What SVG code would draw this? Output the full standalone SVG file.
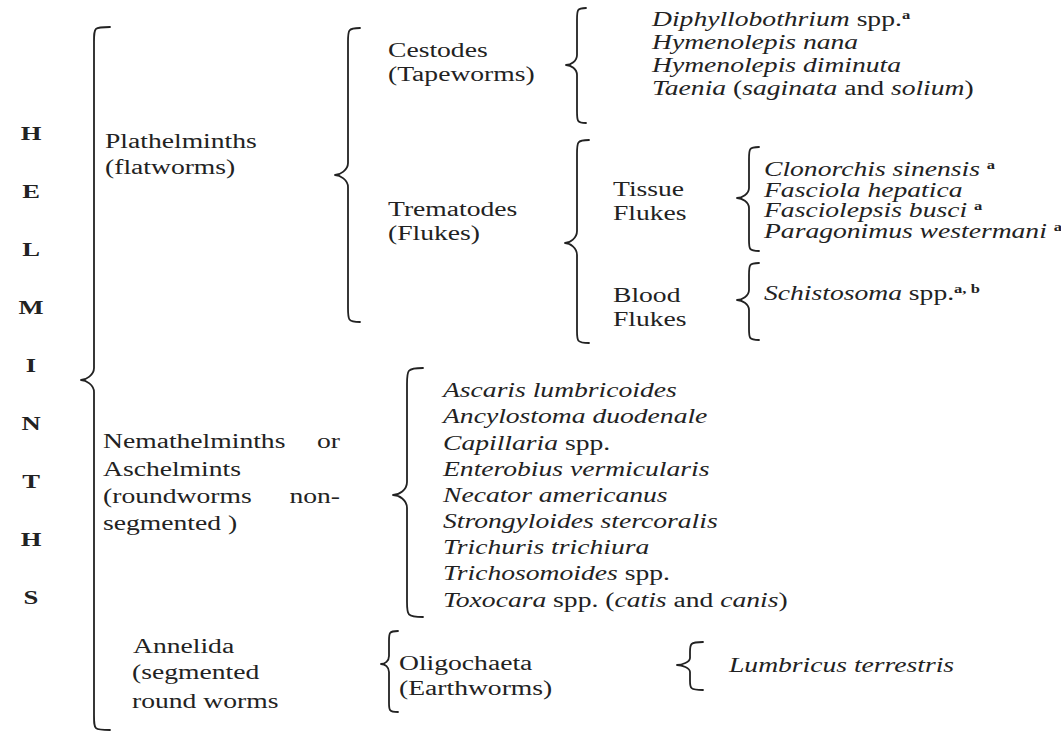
<svg xmlns="http://www.w3.org/2000/svg" width="1061" height="736" viewBox="0 0 1061 736">
<style>
text{font-family:"Liberation Serif","Times New Roman",serif;font-size:20px;fill:#222}
.i{font-style:italic}
.b{font-weight:bold;font-size:19px}
.sup{font-size:12px;font-weight:bold;font-style:normal}
.end{text-anchor:end}
.mid{text-anchor:middle}
.br{fill:none;stroke:#222;stroke-width:1.8;stroke-linecap:round;stroke-linejoin:round}
</style>
<rect width="1061" height="736" fill="#fff"/>
<g id="connectors">
<path class="br" d="M110,27 C94,27 94,27 94,42 L94,368 C94,375 86,380 81,380 C86,380 94,385 94,392 L94,715 C94,730 94,730 110,730"/>
<path class="br" d="M360,28 C348,28 348,30 348,42 L348,163 C348,170 340,175 335,175 C340,175 348,180 348,187 L348,308 C348,320 348,322 360,322"/>
<path class="br" d="M586,8 C577,8 577,10 577,20 L577,55 C577,61 571,65 566,65 C571,65 577,69 577,75 L577,111 C577,121 577,123 586,123"/>
<path class="br" d="M589,140 C577,140 577,142 577,154 L577,231 C577,238 570,243 565,243 C570,243 577,248 577,255 L577,331 C577,341 577,343 589,343"/>
<path class="br" d="M759,147 C749,147 749,149 749,159 L749,188 C749,194 742,198 737,198 C742,198 749,202 749,208 L749,240 C749,249 749,251 759,251"/>
<path class="br" d="M759,263 C749,263 749,265 749,275 L749,290 C749,296 742,300 737,300 C742,300 749,304 749,310 L749,329 C749,338 749,340 759,340"/>
<path class="br" d="M423,368 C407,368 407,370 407,384 L407,482 C407,490 399,495 393,495 C399,495 407,500 407,508 L407,602 C407,615 407,617 423,617"/>
<path class="br" d="M398,631 C389,631 389,633 389,641 L389,656 C389,661 385,664 381,664 C385,664 389,667 389,672 L389,703 C389,710 389,712 398,712"/>
<path class="br" d="M703,642 C690,642 690,644 690,652 L690,658 C690,662 682,665 677,665 C682,665 690,668 690,672 L690,681 C690,688 690,690 703,690"/>
</g>
<g id="helminths">
<text class="b mid" transform="translate(31 140) scale(1.4 1)">H</text>
<text class="b mid" transform="translate(31 198) scale(1.4 1)">E</text>
<text class="b mid" transform="translate(31 256) scale(1.4 1)">L</text>
<text class="b mid" transform="translate(31 314) scale(1.4 1)">M</text>
<text class="b mid" transform="translate(31 372) scale(1.4 1)">I</text>
<text class="b mid" transform="translate(31 430) scale(1.4 1)">N</text>
<text class="b mid" transform="translate(31 488) scale(1.4 1)">T</text>
<text class="b mid" transform="translate(31 546) scale(1.4 1)">H</text>
<text class="b mid" transform="translate(31 604) scale(1.4 1)">S</text>
</g>
<g id="plathelminths">
<text transform="translate(105 148) scale(1.38 1)">Plathelminths</text>
<text transform="translate(105 174) scale(1.38 1)">(flatworms)</text>
</g>
<g id="cestodes">
<text transform="translate(388 57) scale(1.38 1)">Cestodes</text>
<text transform="translate(388 81) scale(1.38 1)">(Tapeworms)</text>
</g>
<g id="cestode-species">
<text transform="translate(652 26) scale(1.38 1)"><tspan class="i">Diphyllobothrium</tspan> spp.<tspan class="sup" dy="-7">a</tspan></text>
<text class="i" transform="translate(652 49) scale(1.38 1)">Hymenolepis nana</text>
<text class="i" transform="translate(652 72) scale(1.38 1)">Hymenolepis diminuta</text>
<text transform="translate(652 95) scale(1.38 1)"><tspan class="i">Taenia</tspan> (<tspan class="i">saginata</tspan> and <tspan class="i">solium</tspan>)</text>
</g>
<g id="trematodes">
<text transform="translate(388 216) scale(1.38 1)">Trematodes</text>
<text transform="translate(388 240) scale(1.38 1)">(Flukes)</text>
</g>
<g id="tissue-flukes">
<text transform="translate(613 196) scale(1.38 1)">Tissue</text>
<text transform="translate(613 220) scale(1.38 1)">Flukes</text>
</g>
<g id="tissue-species">
<text transform="translate(764 176) scale(1.38 1)"><tspan class="i">Clonorchis sinensis </tspan><tspan class="sup" dy="-7">a</tspan></text>
<text class="i" transform="translate(764 197) scale(1.38 1)">Fasciola hepatica</text>
<text transform="translate(764 217) scale(1.38 1)"><tspan class="i">Fasciolepsis busci </tspan><tspan class="sup" dy="-7">a</tspan></text>
<text transform="translate(764 238) scale(1.38 1)"><tspan class="i">Paragonimus westermani </tspan><tspan class="sup" dy="-7">a</tspan></text>
</g>
<g id="blood-flukes">
<text transform="translate(613 302) scale(1.38 1)">Blood</text>
<text transform="translate(613 326) scale(1.38 1)">Flukes</text>
</g>
<g id="blood-species">
<text transform="translate(764 300) scale(1.38 1)"><tspan class="i">Schistosoma</tspan> spp.<tspan class="sup" dy="-7">a, b</tspan></text>
</g>
<g id="nemathelminths">
<text transform="translate(103 448) scale(1.38 1)">Nemathelminths</text>
<text class="end" transform="translate(340 448) scale(1.38 1)">or</text>
<text transform="translate(103 476) scale(1.38 1)">Aschelmints</text>
<text transform="translate(103 503) scale(1.38 1)">(roundworms</text>
<text class="end" transform="translate(340 503) scale(1.38 1)">non-</text>
<text transform="translate(103 530) scale(1.38 1)">segmented )</text>
</g>
<g id="nematode-species">
<text class="i" transform="translate(443 397) scale(1.38 1)">Ascaris lumbricoides</text>
<text class="i" transform="translate(443 423) scale(1.38 1)">Ancylostoma duodenale</text>
<text transform="translate(443 450) scale(1.38 1)"><tspan class="i">Capillaria</tspan> spp.</text>
<text class="i" transform="translate(443 476) scale(1.38 1)">Enterobius vermicularis</text>
<text class="i" transform="translate(443 502) scale(1.38 1)">Necator americanus</text>
<text class="i" transform="translate(443 528) scale(1.38 1)">Strongyloides stercoralis</text>
<text class="i" transform="translate(443 554) scale(1.38 1)">Trichuris trichiura</text>
<text transform="translate(443 580) scale(1.38 1)"><tspan class="i">Trichosomoides</tspan> spp.</text>
<text transform="translate(443 607) scale(1.38 1)"><tspan class="i">Toxocara</tspan> spp. (<tspan class="i">catis</tspan> and <tspan class="i">canis</tspan>)</text>
</g>
<g id="annelida">
<text transform="translate(133 653) scale(1.38 1)">Annelida</text>
<text transform="translate(132 679) scale(1.38 1)">(segmented</text>
<text transform="translate(132 708) scale(1.38 1)">round worms</text>
</g>
<g id="oligochaeta">
<text transform="translate(399 670) scale(1.38 1)">Oligochaeta</text>
<text transform="translate(399 695) scale(1.38 1)">(Earthworms)</text>
</g>
<g id="lumbricus">
<text class="i" transform="translate(729 672) scale(1.38 1)">Lumbricus terrestris</text>
</g>
</svg>
